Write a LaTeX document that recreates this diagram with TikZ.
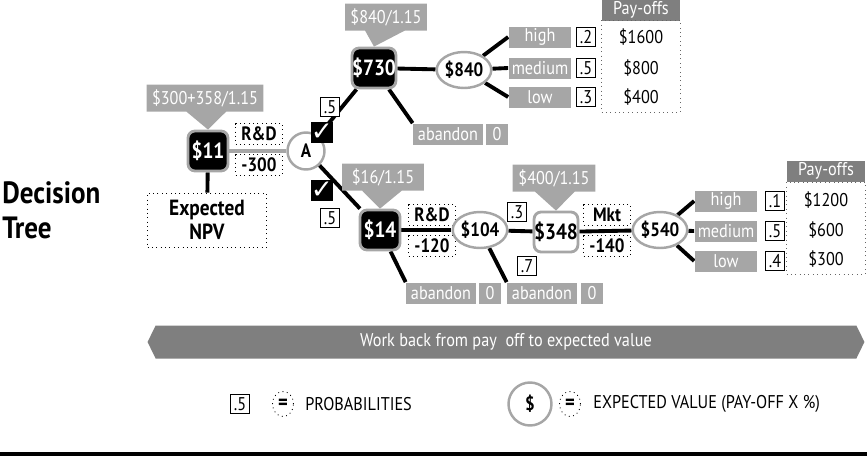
\documentclass[tikz,border=0pt]{standalone}
\usepackage{fontspec}
\setmainfont[FakeStretch=0.88]{PT Sans}
\newfontfamily\symfont{DejaVu Sans}
\usetikzlibrary{shapes,shapes.callouts,shapes.arrows,backgrounds}
\definecolor{lgray}{HTML}{A6A6A6}
\definecolor{dgray}{HTML}{7F7F7F}

\begin{document}
\begin{tikzpicture}[x=0.02cm,y=-0.02cm,
    dec/.style={shape=rectangle,rounded corners=4pt,fill=black,draw=lgray,line width=1.6pt,minimum size=0.8cm,inner sep=0pt,text=white,font=\bfseries\fontsize{12.5}{13}\selectfont},
    open/.style={dec,fill=white,text=black},
    chance/.style={shape=ellipse,draw=lgray,fill=white,line width=1.4pt,minimum width=1cm,minimum height=0.72cm,inner sep=0pt,font=\bfseries\fontsize{11}{12}\selectfont},
    gbox/.style={shape=rectangle,fill=lgray,text=white,minimum width=1.26cm,minimum height=0.42cm,inner sep=0pt,font=\fontsize{10.5}{11}\selectfont},
    pbox/.style={shape=rectangle,draw=black,fill=white,line width=0.5pt,minimum size=0.38cm,inner sep=0pt,font=\fontsize{10.5}{11}\selectfont},
    dbox/.style={shape=rectangle,draw=black,dotted,line width=0.5pt,minimum width=0.94cm,minimum height=0.42cm,inner sep=0pt,font=\bfseries\fontsize{11}{12}\selectfont},
    note/.style={shape=rectangle callout,fill=lgray,text=white,minimum height=0.54cm,inner sep=0pt,callout pointer width=0.8cm,font=\fontsize{10.5}{11}\selectfont},
    tick/.style={shape=rectangle,fill=black,text=white,minimum size=0.42cm,inner sep=0pt,font=\symfont\fontsize{15}{15}\selectfont},
    head/.style={shape=rectangle,fill=dgray,text=white,minimum width=1.58cm,minimum height=0.42cm,inner sep=0pt,font=\fontsize{10.5}{11}\selectfont},
    payoff/.style={shape=rectangle,draw=black!60,dotted,line width=0.5pt,minimum width=1.58cm,minimum height=1.84cm,inner sep=0pt},
    val/.style={font=\fontsize{10.5}{11}\selectfont,inner sep=0pt},
    eq/.style={shape=ellipse,draw=black,dotted,line width=0.5pt,minimum width=0.42cm,minimum height=0.5cm,inner sep=0pt,font=\bfseries\fontsize{12}{12}\selectfont},
    legend/.style={anchor=west,inner sep=0pt,font=\fontsize{10.5}{11}\selectfont},
    link/.style={line width=2.2pt}]
\useasboundingbox (0,0) rectangle (867,457);

\node[anchor=west,align=left,inner sep=0pt,font=\bfseries\fontsize{17.5}{20}\selectfont](title)at(2, 210){Decision\\Tree};

% first decision
\node[dec](d11)at(208, 151){\$11};
\node[note,minimum width=2.34cm,callout absolute pointer={(d11.north)}](c11)at(205, 98){\$300+358/1.15};
\node[dbox](rd1)at(259, 134){R\&D};
\node[dbox](m300)at(259, 165){-300};
\node[dbox,minimum width=2.38cm,minimum height=1.08cm,align=center,font=\bfseries\fontsize{12.5}{14}\selectfont](npv)at(207, 220){Expected\\NPV};
\node[chance,shape=circle,minimum size=0.74cm](A)at(306, 151){A};
\node[tick](t1)at(322, 132){✓};
\node[tick](t2)at(322, 190){✓};
\node[pbox](p1)at(330, 107){.5};
\node[pbox](p2)at(330, 218){.5};

% upper branch
\node[dec](d730)at(374, 68){\$730};
\node[note,minimum width=1.64cm,callout absolute pointer={(d730.north)}](c730)at(386, 17){\$840/1.15};
\node[chance](e840)at(464, 70){\$840};
\node[gbox](h1)at(540, 37){high};
\node[gbox](md1)at(540, 68){medium};
\node[gbox](l1)at(540, 97){low};
\node[pbox](ph1)at(586, 37){.2};
\node[pbox](pm1)at(586, 68){.5};
\node[pbox](pl1)at(586, 97){.3};
\node[head](po1)at(641, 10){Pay-offs};
\node[payoff](box1)at(641, 66){};
\node[val](v11)at(641, 37){\$1600};
\node[val](v12)at(641, 68){\$800};
\node[val](v13)at(641, 97){\$400};
\node[gbox,minimum width=1.4cm](ab1)at(448, 134){abandon};
\node[gbox,minimum width=0.44cm](z1)at(497, 134){0};

% lower branch
\node[dec](d14)at(380, 230){\$14};
\node[note,minimum width=1.64cm,callout absolute pointer={(d14.north)}](c14)at(383, 177){\$16/1.15};
\node[dbox](rd2)at(432, 215){R\&D};
\node[dbox](m120)at(432, 246){-120};
\node[chance,minimum width=0.96cm](e104)at(480, 230){\$104};
\node[pbox](p3)at(517, 212){.3};
\node[pbox](p7)at(527, 266){.7};
\node[open](d348)at(556, 232){\$348};
\node[note,minimum width=1.66cm,callout absolute pointer={(d348.north)}](c348)at(554, 178){\$400/1.15};
\node[dbox](mkt)at(607, 215){Mkt};
\node[dbox](m140)at(607, 246){-140};
\node[chance,minimum width=0.96cm](e540)at(660, 230){\$540};
\node[gbox](h2)at(726, 201){high};
\node[gbox](md2)at(726, 231){medium};
\node[gbox](l2)at(726, 261){low};
\node[pbox](ph2)at(775, 201){.1};
\node[pbox](pm2)at(775, 231){.5};
\node[pbox](pl2)at(775, 261){.4};
\node[head](po2)at(826, 171){Pay-offs};
\node[payoff](box2)at(826, 228){};
\node[val](v21)at(826, 200){\$1200};
\node[val](v22)at(826, 230){\$600};
\node[val](v23)at(826, 259){\$300};
\node[gbox,minimum width=1.4cm](ab2)at(441, 293){abandon};
\node[gbox,minimum width=0.44cm](z2)at(490, 293){0};
\node[gbox,minimum width=1.4cm](ab3)at(542, 293){abandon};
\node[gbox,minimum width=0.44cm](z3)at(592, 293){0};

% banner and legend
\node[shape=double arrow,fill=dgray,text=white,double arrow head extend=0pt,double arrow tip angle=128,minimum height=14.34cm,minimum width=0.66cm,inner sep=0pt,font=\fontsize{10.5}{11}\selectfont](wb)at(506, 342){Work back from pay\ \ off to expected value};
\node[pbox](lp)at(240, 404){.5};
\node[eq](le1)at(283, 404){=};
\node[legend](lt1)at(305, 404){PROBABILITIES};
\node[chance,shape=circle,minimum size=0.86cm](lc)at(530, 404){\$};
\node[eq](le2)at(570, 404){=};
\node[legend](lt2)at(593, 404){EXPECTED VALUE (PAY-OFF X \%)};
\coordinate(r0)at(0, 454);
\coordinate(r1)at(867, 454);
\draw[line width=2.5pt](r0) -- (r1);

\begin{scope}[on background layer]
\path[link,draw=lgray](d11) -- (A);
\path[link,draw=black](d11) edge (npv)
    (A) edge (d730)
    (A) edge (d14)
    (d730) edge (e840)
    (d730) edge (ab1.north west)
    (e840) edge (h1.west)
    (e840) edge (md1.west)
    (e840) edge (l1.west)
    (d14) edge (e104)
    (d14) edge (ab2.north west)
    (e104) edge (d348)
    (e104) edge (ab3.north west)
    (d348) edge (e540)
    (e540) edge (h2.west)
    (e540) edge (md2.west)
    (e540) edge (l2.west);
\end{scope}
\end{tikzpicture}
\end{document}
